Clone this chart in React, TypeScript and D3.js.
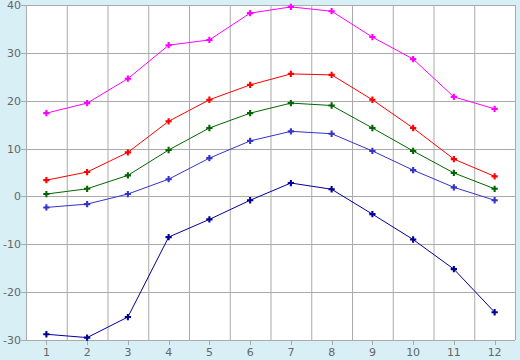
import React from "react";
import * as d3 from "d3";

const months = [1, 2, 3, 4, 5, 6, 7, 8, 9, 10, 11, 12];
const yTicks = [-30, -20, -10, 0, 10, 20, 30, 40];

const seriesMagenta = [17.4, 19.5, 24.6, 31.6, 32.7, 38.3, 39.6, 38.7, 33.3, 28.7, 20.8, 18.3];
const seriesRed = [3.4, 5.1, 9.2, 15.7, 20.2, 23.3, 25.6, 25.4, 20.2, 14.3, 7.8, 4.2];
const seriesGreen = [0.5, 1.6, 4.4, 9.7, 14.3, 17.4, 19.5, 19.0, 14.3, 9.5, 4.9, 1.6];
const seriesBlue = [-2.3, -1.6, 0.5, 3.6, 8.0, 11.6, 13.6, 13.1, 9.5, 5.5, 1.9, -0.8];
const seriesNavy = [-28.8, -29.5, -25.2, -8.5, -4.8, -0.8, 2.8, 1.5, -3.7, -9.0, -15.2, -24.2];

const series = [
  { values: seriesMagenta, color: "#ff00ff" },
  { values: seriesRed, color: "#ff0000" },
  { values: seriesGreen, color: "#006600" },
  { values: seriesBlue, color: "#3333cc" },
  { values: seriesNavy, color: "#000099" },
];

export default function App() {
  const W = 520, H = 360;
  const left = 26, right = 515, top = 5, bottom = 340;
  const x = d3.scaleBand<number>().domain(months).range([left, right]).padding(0);
  const y = d3.scaleLinear().domain([-30, 40]).range([bottom, top]);
  const cx = (m: number) => (x(m) as number) + x.bandwidth() / 2;
  const line = d3
    .line<number>()
    .x((_, i) => cx(months[i]))
    .y((v) => y(v));
  const sym = d3.symbol().type(d3.symbolCross).size(22);
  const grid = "#aaaaaa";
  const bounds = months.map((m) => x(m) as number).concat([right]);

  return (
    <svg
      width={W}
      height={H}
      style={{ position: "absolute", left: 0, top: 0, display: "block" }}
      fontFamily="DejaVu Sans, sans-serif"
      fontSize={11}
    >
      <rect x={0} y={0} width={W} height={H} fill="#d9eff6" />
      <rect x={left} y={top} width={right - left} height={bottom - top} fill="#ffffff" />
      {bounds.map((b, i) => (
        <line key={"vg" + i} x1={b + 0.5} x2={b + 0.5} y1={top} y2={bottom} stroke={grid} strokeWidth={1} />
      ))}
      {yTicks.map((t) => (
        <line key={"hg" + t} x1={left - 5} x2={right} y1={Math.round(y(t)) + 0.5} y2={Math.round(y(t)) + 0.5} stroke={grid} strokeWidth={1} />
      ))}
      {yTicks.map((t) => (
        <text key={"yl" + t} x={left - 5} y={y(t) + 4} textAnchor="end" fill="#666666">
          {t}
        </text>
      ))}
      {months.map((m) => (
        <g key={"xt" + m}>
          <line x1={Math.round(cx(m)) + 0.5} x2={Math.round(cx(m)) + 0.5} y1={bottom} y2={bottom + 5} stroke={grid} />
          <text x={cx(m)} y={bottom + 16} textAnchor="middle" fill="#666666">
            {m}
          </text>
        </g>
      ))}
      {series.map((s, si) => (
        <g key={"s" + si}>
          <path d={line(s.values) || ""} fill="none" stroke={s.color} strokeWidth={1} />
          {s.values.map((v, i) => (
            <path key={i} d={sym() || ""} transform={`translate(${cx(months[i])},${y(v)})`} fill={s.color} />
          ))}
        </g>
      ))}
    </svg>
  );
}
